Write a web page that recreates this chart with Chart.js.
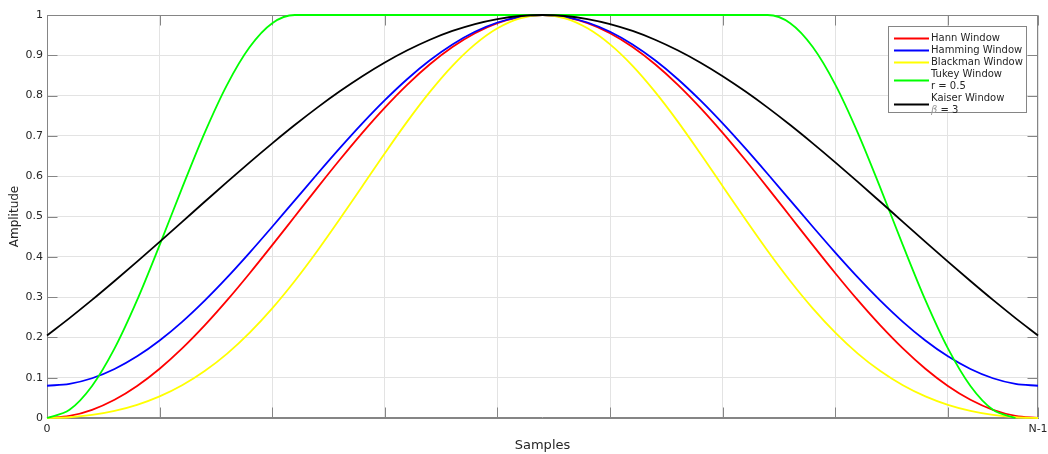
<!DOCTYPE html>
<html>
<head>
<meta charset="utf-8">
<title>Window functions</title>
<script src="https://cdn.jsdelivr.net/npm/chart.js@4.4.1/dist/chart.umd.min.js"></script>
<style>
  html, body { margin: 0; padding: 0; background: #fff; }
  #chart { display: block; }
</style>
</head>
<body>
<canvas id="chart" width="1048" height="454"></canvas>
<script>
// Sample index, 0 .. N-1 (N = 89), every second sample
const samples = [0, 2, 4, 6, 8, 10, 12, 14, 16, 18, 20, 22, 24, 26, 28, 30, 32, 34, 36, 38, 40, 42, 44,
  46, 48, 50, 52, 54, 56, 58, 60, 62, 64, 66, 68, 70, 72, 74, 76, 78, 80, 82, 84, 86, 88];

const xTicks = [0, 10, 20, 30, 40, 50, 60, 70, 80, 88];
const xTickLabels = ['0', '', '', '', '', '', '', '', '', 'N-1'];
const yTicks = [0, 0.1, 0.2, 0.3, 0.4, 0.5, 0.6, 0.7, 0.8, 0.9, 1];
const yTickLabels = ['0', '0.1', '0.2', '0.3', '0.4', '0.5', '0.6', '0.7', '0.8', '0.9', '1'];

const hann = [0, 0.0051, 0.0203, 0.0452, 0.0794, 0.1222, 0.1726, 0.2297, 0.2923, 0.3592, 0.4289, 0.5,
  0.5711, 0.6408, 0.7077, 0.7703, 0.8274, 0.8778, 0.9206, 0.9548, 0.9797, 0.9949, 1,
  0.9949, 0.9797, 0.9548, 0.9206, 0.8778, 0.8274, 0.7703, 0.7077, 0.6408, 0.5711,
  0.5, 0.4289, 0.3592, 0.2923, 0.2297, 0.1726, 0.1222, 0.0794, 0.0452, 0.0203, 0.0051, 0];

const hamming = [0.08, 0.0847, 0.0986, 0.1216, 0.1530, 0.1924, 0.2387, 0.2913, 0.3489, 0.4104, 0.4745, 0.54,
  0.6055, 0.6696, 0.7311, 0.7887, 0.8413, 0.8876, 0.9270, 0.9584, 0.9814, 0.9953, 1,
  0.9953, 0.9814, 0.9584, 0.9270, 0.8876, 0.8413, 0.7887, 0.7311, 0.6696, 0.6055,
  0.54, 0.4745, 0.4104, 0.3489, 0.2913, 0.2387, 0.1924, 0.1530, 0.1216, 0.0986, 0.0847, 0.08];

const blackman = [0, 0.0019, 0.0075, 0.0176, 0.0326, 0.0535, 0.0812, 0.1165, 0.1599, 0.2119, 0.2721, 0.34,
  0.4144, 0.4936, 0.5753, 0.6571, 0.7361, 0.8092, 0.8739, 0.9272, 0.9671, 0.9917, 1,
  0.9917, 0.9671, 0.9272, 0.8739, 0.8092, 0.7361, 0.6571, 0.5753, 0.4936, 0.4144,
  0.34, 0.2721, 0.2119, 0.1599, 0.1165, 0.0812, 0.0535, 0.0326, 0.0176, 0.0075, 0.0019, 0];

const tukey = [0, 0.0203, 0.0794, 0.1726, 0.2923, 0.4289, 0.5711, 0.7077, 0.8274, 0.9206, 0.9797,
  1, 1, 1, 1, 1, 1, 1, 1, 1, 1, 1, 1, 1, 1, 1, 1, 1, 1, 1, 1, 1, 1,
  0.9797, 0.9206, 0.8274, 0.7077, 0.5711, 0.4289, 0.2923, 0.1726, 0.0794, 0.0203, 0];

const kaiser = [0.2049, 0.2479, 0.2930, 0.3399, 0.3881, 0.4372, 0.4868, 0.5365, 0.5859, 0.6344, 0.6815, 0.7269,
  0.7701, 0.8106, 0.8481, 0.8822, 0.9124, 0.9386, 0.9604, 0.9776, 0.9900, 0.9975, 1,
  0.9975, 0.9900, 0.9776, 0.9604, 0.9386, 0.9124, 0.8822, 0.8481, 0.8106, 0.7701,
  0.7269, 0.6815, 0.6344, 0.5859, 0.5365, 0.4868, 0.4372, 0.3881, 0.3399, 0.2930, 0.2479, 0.2049];

const seriesLabels = [
  ['Hann Window'],
  ['Hamming Window'],
  ['Blackman Window'],
  ['Tukey Window', 'r = 0.5'],
  ['Kaiser Window', '\u03b2 = 3'],
];
const seriesColors = ['#ff0000', '#0000ff', '#ffff00', '#00ff00', '#000000'];

const FONT = "'DejaVu Sans', sans-serif";
const AXIS = '#858585';
const TEXT = '#262626';
const GRID = '#e3e3e3';
const TICK_LEN = 10;

const seriesList = [hann, hamming, blackman, tukey, kaiser];

// inward tick marks on all four sides plus the closing box
const axesBox = {
  id: 'axesBox',
  beforeDatasetsDraw(chart) {
    const { ctx, chartArea: a, scales } = chart;
    const L = a.left + 0.5, R = a.right - 0.5, T = a.top + 0.5, B = a.bottom - 0.5;
    ctx.save();
    ctx.strokeStyle = AXIS;
    ctx.lineWidth = 1;
    ctx.beginPath();
    ctx.rect(L, T, R - L, B - T);
    xTicks.forEach((v) => {
      const px = Math.round(scales.x.getPixelForValue(v)) + 0.5;
      ctx.moveTo(px, B); ctx.lineTo(px, B - TICK_LEN);
      ctx.moveTo(px, T); ctx.lineTo(px, T + TICK_LEN);
    });
    yTicks.forEach((v) => {
      const py = Math.round(scales.y.getPixelForValue(v)) + 0.5;
      ctx.moveTo(L, py); ctx.lineTo(L + TICK_LEN, py);
      ctx.moveTo(R, py); ctx.lineTo(R - TICK_LEN, py);
    });
    ctx.stroke();
    ctx.restore();
  },
};

// boxed legend in the upper right corner, with two-line entries
const boxLegend = {
  id: 'boxLegend',
  afterDraw(chart) {
    const { ctx } = chart;
    const box = { x: 888.5, y: 26.5, w: 138, h: 86 };
    const lineH = 12;
    ctx.save();
    ctx.fillStyle = '#ffffff';
    ctx.fillRect(box.x, box.y, box.w, box.h);
    ctx.strokeStyle = AXIS;
    ctx.lineWidth = 1;
    ctx.strokeRect(box.x, box.y, box.w, box.h);
    ctx.textBaseline = 'middle';
    let y = box.y + 6;
    seriesLabels.forEach((lines, i) => {
      const blockH = lines.length * lineH;
      const mid = y + blockH / 2;
      ctx.strokeStyle = seriesColors[i];
      ctx.lineWidth = 1.8;
      ctx.beginPath();
      ctx.moveTo(894, mid);
      ctx.lineTo(929, mid);
      ctx.stroke();
      lines.forEach((txt, k) => {
        const ty = y + lineH * k + lineH / 2;
        let tx = 931;
        if (txt.startsWith('\u03b2')) {
          ctx.font = 'italic 10px ' + FONT;
          ctx.fillStyle = '#9a9a9a';
          ctx.fillText('\u03b2', tx, ty);
          tx += ctx.measureText('\u03b2').width;
          txt = txt.slice(1);
        }
        ctx.font = '10px ' + FONT;
        ctx.fillStyle = TEXT;
        ctx.fillText(txt, tx, ty);
      });
      y += blockH;
    });
    ctx.restore();
  },
};

new Chart(document.getElementById('chart').getContext('2d'), {
  type: 'line',
  data: {
    datasets: seriesList.map((values, i) => ({
      label: seriesLabels[i].join(' '),
      data: samples.map((x, j) => ({ x, y: values[j] })),
      borderColor: seriesColors[i],
      borderWidth: 1.8,
      pointRadius: 0,
      fill: false,
      cubicInterpolationMode: 'monotone',
      clip: 3,
      order: seriesList.length - i,
    })),
  },
  options: {
    responsive: false,
    devicePixelRatio: 1,
    animation: false,
    layout: { padding: { top: 15, right: 10, left: 0, bottom: 0 }, autoPadding: false },
    plugins: { legend: { display: false }, tooltip: { enabled: false } },
    scales: {
      x: {
        type: 'linear',
        min: 0,
        max: 88,
        afterBuildTicks: (s) => { s.ticks = xTicks.map((v) => ({ value: v })); },
        afterFit: (s) => {
          s.height = 36;
          s.paddingLeft = 0;
          s.paddingRight = 0;
        },
        ticks: {
          autoSkip: false,
          maxRotation: 0,
          padding: 5,
          color: TEXT,
          font: { family: FONT, size: 11 },
          callback: (v, i) => xTickLabels[i],
        },
        grid: { color: GRID, drawTicks: false },
        border: { color: AXIS },
        title: {
          display: true,
          text: 'Samples',
          color: TEXT,
          font: { family: FONT, size: 13 },
          padding: { top: 0, bottom: 1 },
        },
      },
      y: {
        min: 0,
        max: 1,
        afterBuildTicks: (s) => { s.ticks = yTicks.map((v) => ({ value: v })); },
        afterFit: (s) => {
          s.width = 47;
          s.paddingTop = 0;
          s.paddingBottom = 0;
        },
        ticks: {
          padding: 4,
          color: TEXT,
          font: { family: FONT, size: 11 },
          callback: (v, i) => yTickLabels[i],
        },
        grid: { color: GRID, drawTicks: false },
        border: { color: AXIS },
        title: {
          display: true,
          text: 'Amplitude',
          color: TEXT,
          font: { family: FONT, size: 12 },
          padding: { top: 8, bottom: 0 },
        },
      },
    },
  },
  plugins: [axesBox, boxLegend],
});
</script>
</body>
</html>
